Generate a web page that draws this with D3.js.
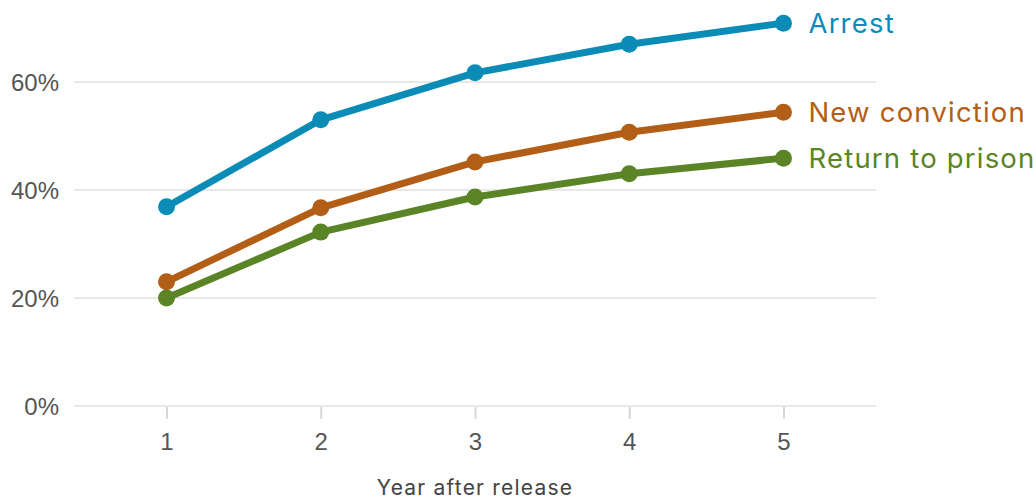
<!DOCTYPE html>
<html>
<head>
<meta charset="utf-8">
<script src="https://cdn.jsdelivr.net/npm/d3@7/dist/d3.min.js"></script>
<style>
  html, body { margin: 0; padding: 0; background: #fff; }
  svg { display: block; }
</style>
</head>
<body>
<div id="chart"></div>
<script>
'use strict';

const years = [1, 2, 3, 4, 5];
const arrest = [36.9, 53.0, 61.7, 67.0, 70.9];
const newConviction = [23.0, 36.7, 45.2, 50.7, 54.4];
const returnToPrison = [20.0, 32.2, 38.7, 43.0, 45.9];
const seriesNames = ['Arrest', 'New conviction', 'Return to prison'];
const seriesColors = ['#0a8cb6', '#b35e17', '#5b8426'];
const yTicks = [0, 20, 40, 60];

const width = 1036;
const height = 500;

const series = [arrest, newConviction, returnToPrison].map((vals, i) => ({
    name: seriesNames[i],
    color: seriesColors[i],
    points: vals.map((v, j) => ({year: years[j], value: v}))
}));

const x = d3.scaleLinear().domain([0.4, 5.6]).range([74, 876]);
const y = d3.scaleLinear().domain([0, 60]).range([406, 82]);

const svg = d3.select('#chart').append('svg')
    .attr('width', width)
    .attr('height', height);

// gridlines
svg.append('g')
    .selectAll('line')
    .data(yTicks)
    .enter()
    .append('line')
    .attr('x1', x(0.4))
    .attr('x2', x(5.6))
    .attr('y1', d => y(d))
    .attr('y2', d => y(d))
    .attr('stroke', '#e8e8e8')
    .attr('stroke-width', 2);

// y labels
svg.append('g')
    .selectAll('text')
    .data(yTicks)
    .enter()
    .append('text')
    .attr('x', 59)
    .attr('y', d => y(d))
    .attr('dy', '0.36em')
    .attr('text-anchor', 'end')
    .attr('font-family', 'Liberation Sans, Arial, sans-serif')
    .attr('font-size', 24)
    .attr('fill', '#555')
    .text(d => d + '%');

// x axis
const xAxis = d3.axisBottom(x)
    .tickValues(years)
    .tickSize(12)
    .tickPadding(14)
    .tickFormat(d3.format('d'));
const gx = svg.append('g')
    .attr('transform', `translate(0,${y(0) + 1})`)
    .call(xAxis);
gx.select('.domain').remove();
gx.selectAll('.tick line').attr('stroke', '#d6d6d6').attr('stroke-width', 2);
gx.selectAll('.tick text')
    .attr('font-family', 'Liberation Sans, Arial, sans-serif')
    .attr('font-size', 24)
    .attr('fill', '#555');

svg.append('text')
    .attr('x', x(3))
    .attr('y', 495)
    .attr('text-anchor', 'middle')
    .attr('font-family', 'Inter, sans-serif')
    .attr('font-size', 21)
    .attr('letter-spacing', 1.2)
    .attr('fill', '#444')
    .text('Year after release');

const line = d3.line()
    .x(d => x(d.year))
    .y(d => y(d.value));

const g = svg.append('g')
    .selectAll('g')
    .data(series)
    .enter()
    .append('g');

g.append('path')
    .attr('d', d => line(d.points))
    .attr('fill', 'none')
    .attr('stroke', d => d.color)
    .attr('stroke-width', 7)
    .attr('stroke-linejoin', 'round');

g.selectAll('circle')
    .data(d => d.points.map(p => ({...p, color: d.color})))
    .enter()
    .append('circle')
    .attr('cx', d => x(d.year))
    .attr('cy', d => y(d.value))
    .attr('r', 8.5)
    .attr('fill', d => d.color);

g.append('text')
    .attr('x', d => x(5) + 25)
    .attr('y', d => y(d.points[d.points.length - 1].value))
    .attr('dy', '0.36em')
    .attr('font-family', 'Inter, sans-serif')
    .attr('font-size', 27.5)
    .attr('letter-spacing', 1.2)
    .attr('fill', d => d.color)
    .text(d => d.name);
</script>
</body>
</html>
